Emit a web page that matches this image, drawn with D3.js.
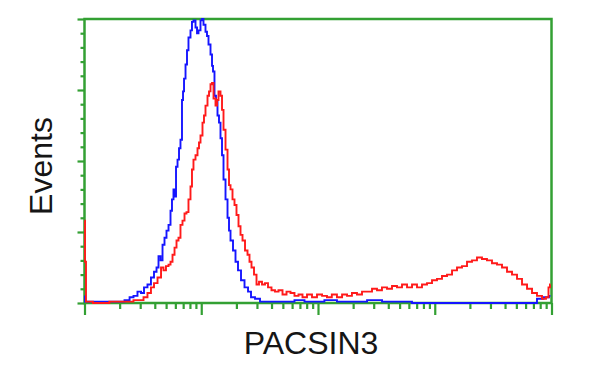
<!DOCTYPE html>
<html>
<head>
<meta charset="utf-8">
<script src="https://cdn.jsdelivr.net/npm/d3@7/dist/d3.min.js"></script>
<style>
  body { margin: 0; background: #fff; }
  svg { display: block; }
  text { font-family: 'Liberation Sans', Arial, sans-serif; fill: #151515; }
</style>
</head>
<body>
<svg width="600" height="375"></svg>
<script>
'use strict'

// fluorescence intensity (log) and event counts
const blueX = [1.00, 1.02, 1.10, 1.34, 1.64, 1.92, 2.07, 2.34, 2.53, 2.73, 2.96, 3.14, 3.33, 3.60, 3.82,
    4.06, 4.22, 4.39, 4.57, 4.75, 4.94, 5.14, 5.35, 5.56, 5.67, 5.90, 6.02, 6.14, 6.39, 6.51, 6.77,
    6.91, 7.05, 7.19, 7.48, 7.62, 7.93, 8.25, 8.41, 8.75, 9.11, 9.29, 9.66, 10.05, 10.25, 10.66,
    11.09, 11.31, 11.77, 12.24, 12.49, 12.73, 13.24, 13.51, 14.05, 14.33, 14.91, 15.21, 15.82,
    16.46, 17.12, 17.46, 18.16, 19.27, 20.04, 21.27, 22.56, 24.42, 25.91, 27.48, 30.33, 33.47,
    38.42, 46.8, 57.0, 69.4, 84.6, 103, 125, 169, 227, 305, 410, 551, 740, 7150, 7890, 9240, 9800]
const blueY = [5, 1, 1, 1, 1, 1, 1, 2, 4, 5, 8, 7, 11, 13, 18,
    22, 25, 33, 30, 41, 46, 51, 55, 65, 73, 80, 75, 96, 101, 109, 115,
    143, 149, 158, 168, 178, 187, 192, 198, 199, 194, 190, 192, 199, 200, 196,
    191, 188, 182, 175, 167, 163, 146, 142, 132, 127, 116, 104, 87,
    73, 60, 51, 44, 37, 29, 23, 16, 11, 8, 4, 3, 1,
    1, 1, 1, 2, 1, 1, 2, 1, 1, 2, 1, 1, 0, 0, 3, 4, 5]

const redX = [1.00, 1.02, 1.04, 1.34, 1.99, 2.43, 2.84, 3.08, 3.33, 3.60, 3.82, 4.06, 4.39, 4.66, 4.84,
    5.14, 5.35, 5.56, 5.79, 6.02, 6.26, 6.51, 6.77, 7.05, 7.33, 7.62, 7.93, 8.25, 8.41, 8.75, 9.11,
    9.47, 9.66, 10.05, 10.45, 10.66, 11.09, 11.54, 11.77, 12.24, 12.49, 12.99, 13.51, 13.78, 14.33,
    14.91, 15.21, 15.82, 16.46, 17.12, 17.46, 18.16, 18.89, 19.65, 20.44, 21.27, 22.12, 23.01,
    24.42, 25.39, 26.41, 27.48, 29.16, 30.33, 32.17, 34.14, 36.22, 38.42, 41.57, 44.11, 47.73,
    51.66, 55.9, 60.47, 65.4, 70.8, 76.6, 84.6, 93.3, 103, 114, 125, 138, 153, 169, 186, 205, 227,
    250, 276, 305, 336, 371, 410, 452, 499, 551, 608, 671, 740, 817, 902, 995, 1098, 1212, 1338,
    1477, 1629, 1798, 1985, 2190, 2416, 2667, 2943, 3250, 3587, 3958, 4369, 4822, 5322, 5873,
    6486, 7150, 7890, 8710, 9240, 9610, 9800]
const redY = [58, 29, 1, 0, 1, 1, 2, 2, 4, 7, 11, 14, 18, 25, 23,
    26, 27, 29, 34, 39, 44, 46, 55, 58, 63, 64, 73, 82, 94, 101, 104,
    109, 113, 118, 127, 132, 139, 146, 149, 154, 155, 144, 139, 143, 149,
    146, 136, 122, 108, 94, 83, 80, 73, 69, 62, 54, 48, 44,
    37, 34, 29, 25, 20, 13, 15, 13, 14, 11, 9, 8, 9,
    6, 8, 7, 5, 6, 4, 6, 4, 6, 5, 4, 6, 4, 6, 5, 7, 6,
    8, 8, 10, 9, 11, 10, 12, 11, 13, 11, 13, 11, 13, 14, 16, 17, 19, 20,
    23, 25, 26, 29, 30, 32, 31, 30, 28, 27, 25, 22, 20, 17, 13,
    10, 7, 5, 3, 4, 11, 13]

const xLabel = 'PACSIN3'
const yLabel = 'Events'

const svg = d3.select('svg')
const m = { left: 84.5, right: 551.5, top: 19, bottom: 303 }
const green = '#33a033'

const x = d3.scaleLog().domain([1, 10000]).range([m.left, m.right])
const y = d3.scaleLinear().domain([0, 200]).range([m.bottom, m.top])

// log ticks: 1..9 in each decade
const xTicks = []
for (let k = 0; k < 4; k++) for (let j = 1; j < 10; j++) xTicks.push(j * Math.pow(10, k))
xTicks.push(10000)
const isMajor = v => Math.abs(Math.log10(v) - Math.round(Math.log10(v))) < 1e-9

const xAxis = svg.append('g')
    .attr('transform', `translate(0,${m.bottom})`)
    .call(d3.axisBottom(x).tickValues(xTicks).tickFormat('').tickSizeOuter(0))
xAxis.select('.domain').remove()
xAxis.selectAll('.tick line')
    .attr('stroke', green)
    .attr('stroke-width', 2.2)
    .attr('y2', d => isMajor(d) ? 12 : 6)

const yTicks = d3.range(0, 201, 10)
const yAxis = svg.append('g')
    .attr('transform', `translate(${m.left},0)`)
    .call(d3.axisLeft(y).tickValues(yTicks).tickFormat('').tickSizeOuter(0))
yAxis.select('.domain').remove()
yAxis.selectAll('.tick line')
    .attr('stroke', green)
    .attr('stroke-width', 2.2)
    .attr('x2', d => d % 50 === 0 ? -7 : -4)

const line = d3.line()
    .x(d => x(d[0]))
    .y(d => y(d[1]))
    .curve(d3.curveStep)

const series = [
    { name: 'blue', color: '#1515ff', pts: d3.zip(blueX, blueY) },
    { name: 'red', color: '#ff1a1a', pts: d3.zip(redX, redY) }
]

// frame
svg.append('rect')
    .attr('x', m.left)
    .attr('y', m.top)
    .attr('width', m.right - m.left)
    .attr('height', m.bottom - m.top)
    .attr('fill', 'none')
    .attr('stroke', green)
    .attr('stroke-width', 2.5)

svg.append('g')
    .selectAll('path')
    .data(series)
    .enter()
    .append('path')
    .attr('d', d => line(d.pts))
    .attr('fill', 'none')
    .attr('stroke', d => d.color)
    .attr('stroke-width', 1.9)

svg.append('text')
    .text(xLabel)
    .attr('x', 311)
    .attr('y', 354)
    .attr('text-anchor', 'middle')
    .attr('font-size', 32)

svg.append('text')
    .text(yLabel)
    .attr('transform', 'translate(52,166) rotate(-90)')
    .attr('text-anchor', 'middle')
    .attr('font-size', 32)
</script>
</body>
</html>
